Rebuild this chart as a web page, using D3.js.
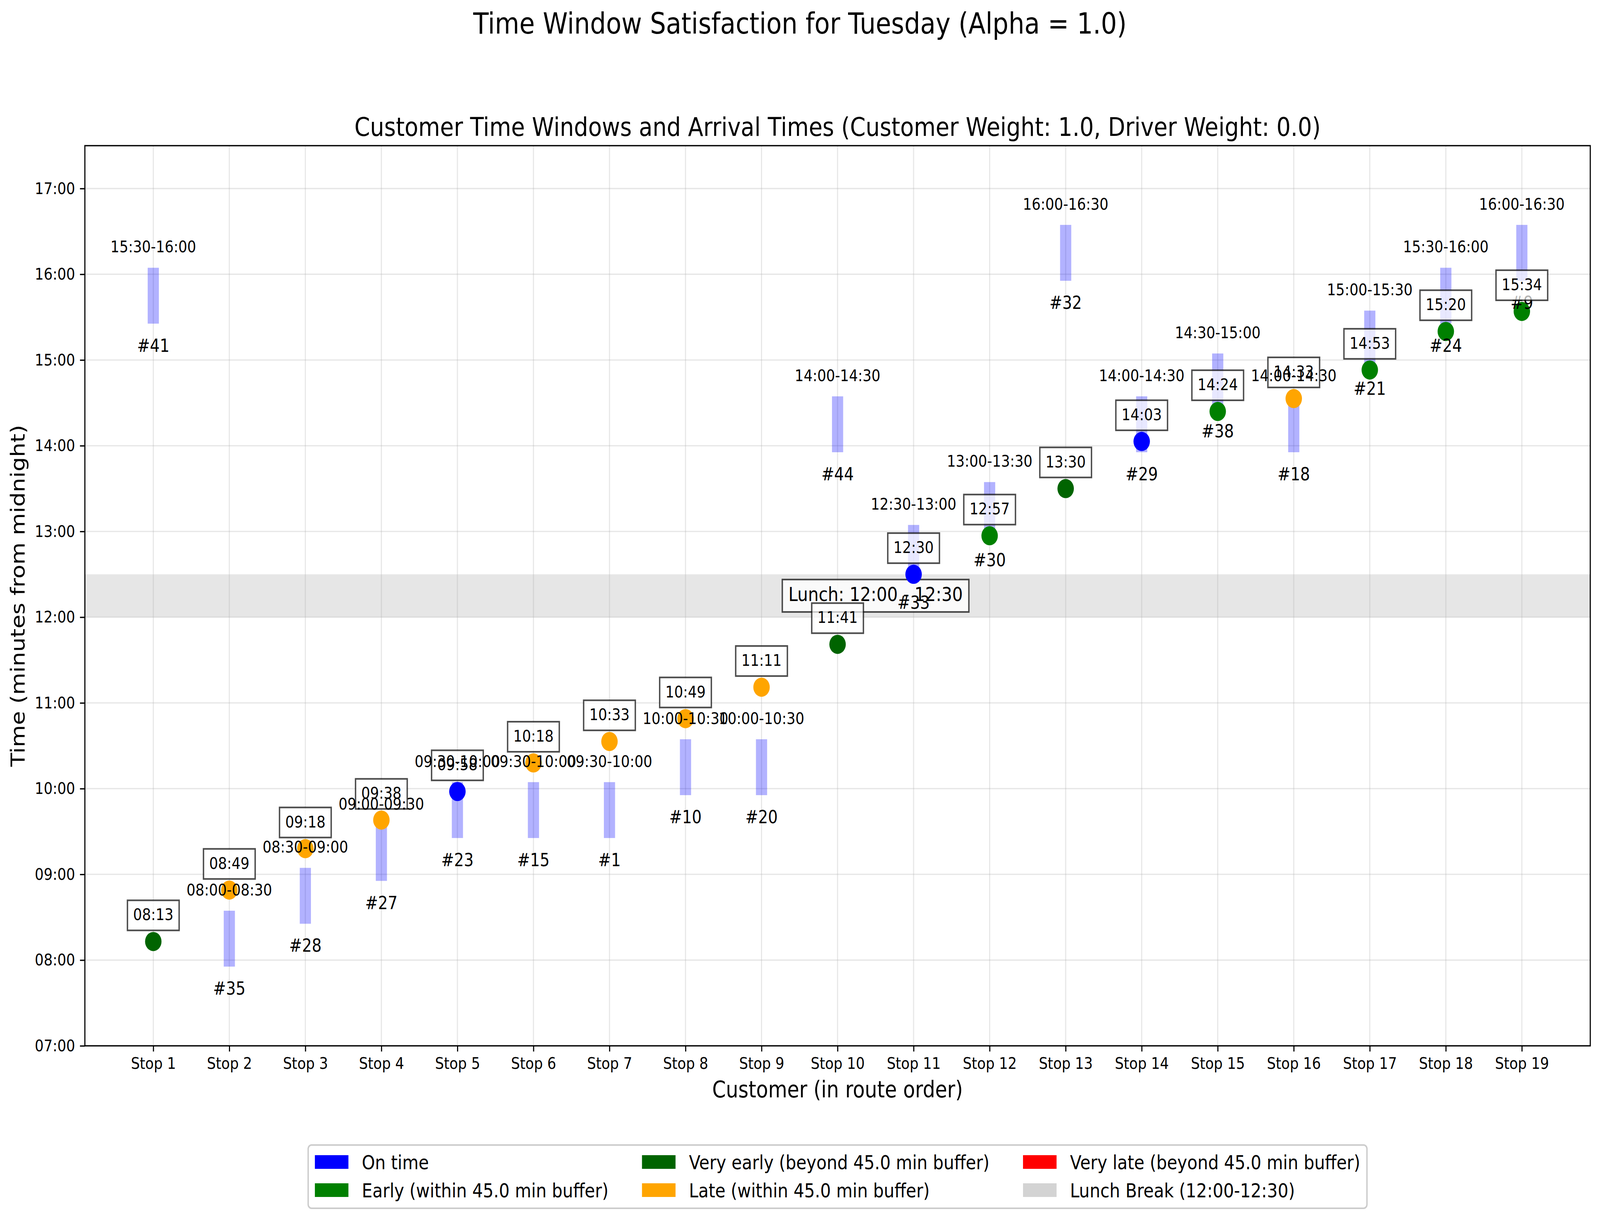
<!DOCTYPE html>
<html>
<head>
<meta charset="utf-8">
<script src="https://cdn.jsdelivr.net/npm/d3@7"></script>
<style>
html, body { margin: 0; padding: 0; width: 100%; height: 100%; overflow: hidden; background: #fff; }
svg { display: block; width: 100vw; height: 100vh; font-family: "DejaVu Sans", sans-serif; }
</style>
</head>
<body>
<svg viewBox="0 0 4770 3124" preserveAspectRatio="none"></svg>
<script>
// route order, one entry per stop
const stopLabels = ["Stop 1","Stop 2","Stop 3","Stop 4","Stop 5","Stop 6","Stop 7","Stop 8","Stop 9","Stop 10",
    "Stop 11","Stop 12","Stop 13","Stop 14","Stop 15","Stop 16","Stop 17","Stop 18","Stop 19"];
const customerIds = ["#41","#35","#28","#27","#23","#15","#1","#10","#20","#44","#33","#30","#32","#29","#38","#18","#21","#24","#9"];
const windowStarts = ["15:30","08:00","08:30","09:00","09:30","09:30","09:30","10:00","10:00","14:00",
    "12:30","13:00","16:00","14:00","14:30","14:00","15:00","15:30","16:00"];
const windowEnds = ["16:00","08:30","09:00","09:30","10:00","10:00","10:00","10:30","10:30","14:30",
    "13:00","13:30","16:30","14:30","15:00","14:30","15:30","16:00","16:30"];
const arrivalTimes = ["08:13","08:49","09:18","09:38","09:58","10:18","10:33","10:49","11:11","11:41",
    "12:30","12:57","13:30","14:03","14:24","14:33","14:53","15:20","15:34"];
const arrivalStatus = ["very_early","late","late","late","on_time","late","late","late","late","very_early",
    "on_time","early","very_early","on_time","early","late","early","early","early"];

const yTickLabels = ["07:00","08:00","09:00","10:00","11:00","12:00","13:00","14:00","15:00","16:00","17:00"];
const yRange = ["07:00","17:30"];
const lunchStart = "12:00";
const lunchEnd = "12:30";

const legendKeys = ["on_time","early","very_early","late","very_late","lunch"];
const legendLabels = ["On time","Early (within 45.0 min buffer)","Very early (beyond 45.0 min buffer)",
    "Late (within 45.0 min buffer)","Very late (beyond 45.0 min buffer)","Lunch Break (12:00-12:30)"];

const colors = {
    on_time: "blue",
    early: "green",
    very_early: "darkgreen",
    late: "orange",
    very_late: "red",
    lunch: "lightgray"
};

function toMin(s) {
    let p = s.split(":");
    return +p[0] * 60 + +p[1];
}

const pt = 300 / 72;
const svg = d3.select("svg");

const plotL = 253, plotR = 4741, plotT = 373, plotB = 2678;

const x = d3.scaleLinear()
    .domain([-0.9, stopLabels.length - 1 + 0.9])
    .range([plotL, plotR]);

const y = d3.scaleLinear()
    .domain([toMin(yRange[0]), toMin(yRange[1])])
    .range([plotB, plotT]);

const idx = d3.range(stopLabels.length);
const yTicks = yTickLabels.map(toMin);

// white figure background
svg.append("rect").attr("width", 4770).attr("height", 3124).attr("fill", "white");

// titles
svg.append("text")
    .attr("x", 2385).attr("y", 86)
    .attr("text-anchor", "middle")
    .attr("font-size", 18 * pt)
    .text("Time Window Satisfaction for Tuesday (Alpha = 1.0)");

svg.append("text")
    .attr("x", (plotL + plotR) / 2).attr("y", 348)
    .attr("text-anchor", "middle")
    .attr("font-size", 16 * pt)
    .text("Customer Time Windows and Arrival Times (Customer Weight: 1.0, Driver Weight: 0.0)");

// lunch band
svg.append("rect")
    .attr("x", plotL).attr("width", plotR - plotL)
    .attr("y", y(toMin(lunchEnd)))
    .attr("height", y(toMin(lunchStart)) - y(toMin(lunchEnd)))
    .attr("fill", "gray").attr("fill-opacity", 0.2);

// grid
let grid = svg.append("g").attr("stroke", "#b0b0b0").attr("stroke-opacity", 0.3).attr("stroke-width", 0.8 * pt);

grid.selectAll(".gx").data(idx).enter().append("line")
    .attr("x1", d => x(d)).attr("x2", d => x(d))
    .attr("y1", plotT).attr("y2", plotB);

grid.selectAll(".gy").data(yTicks).enter().append("line")
    .attr("x1", plotL).attr("x2", plotR)
    .attr("y1", d => y(d)).attr("y2", d => y(d));

// time window bars (thick line with projecting caps)
const barW = 8 * pt;
svg.append("g").selectAll("rect")
    .data(idx).enter().append("rect")
    .attr("x", i => x(i) - barW / 2)
    .attr("y", i => y(toMin(windowEnds[i])) - barW / 2)
    .attr("width", barW)
    .attr("height", i => y(toMin(windowStarts[i])) - y(toMin(windowEnds[i])) + barW)
    .attr("fill", "blue").attr("fill-opacity", 0.3);

// lunch label
const lunchFs = 12 * pt;
let lunchG = svg.append("g");
let lunchCy = y((toMin(lunchStart) + toMin(lunchEnd)) / 2);
let lunchText = lunchG.append("text")
    .attr("x", x(stopLabels.length / 2))
    .attr("y", lunchCy + 0.27 * lunchFs)
    .attr("text-anchor", "middle")
    .attr("font-size", lunchFs)
    .text("Lunch: " + lunchStart + " - " + lunchEnd);
let lw = lunchText.node().getComputedTextLength();
lunchG.insert("rect", "text")
    .attr("x", x(stopLabels.length / 2) - lw / 2 - 18)
    .attr("y", lunchCy - 41.5)
    .attr("width", lw + 36).attr("height", 83)
    .attr("fill", "white").attr("fill-opacity", 0.8)
    .attr("stroke", "black").attr("stroke-opacity", 0.7)
    .attr("stroke-width", pt);

// arrival dots
svg.append("g").selectAll("circle")
    .data(idx).enter().append("circle")
    .attr("cx", i => x(i))
    .attr("cy", i => y(toMin(arrivalTimes[i])))
    .attr("r", 24.5)
    .attr("fill", i => colors[arrivalStatus[i]]);

// customer ids below windows
const idFs = 11 * pt;
svg.append("g").selectAll("text")
    .data(idx).enter().append("text")
    .attr("x", i => x(i))
    .attr("y", i => y(toMin(windowStarts[i])) + 72 + 0.365 * idFs)
    .attr("text-anchor", "middle")
    .attr("font-size", idFs)
    .text(i => customerIds[i]);

// arrival time boxes
const boxFs = 10 * pt;
let boxes = svg.append("g").selectAll("g")
    .data(idx).enter().append("g");

boxes.append("text")
    .attr("x", i => x(i))
    .attr("y", i => y(toMin(arrivalTimes[i])) - 67 + 0.3 * boxFs)
    .attr("text-anchor", "middle")
    .attr("font-size", boxFs)
    .text(i => arrivalTimes[i]);

boxes.each(function(i) {
    let g = d3.select(this);
    let w = g.select("text").node().getComputedTextLength();
    g.insert("rect", "text")
        .attr("x", x(i) - w / 2 - 17)
        .attr("y", y(toMin(arrivalTimes[i])) - 67 - 38.5)
        .attr("width", w + 34).attr("height", 77)
        .attr("fill", "white").attr("fill-opacity", 0.7)
        .attr("stroke", "black").attr("stroke-opacity", 0.7)
        .attr("stroke-width", pt);
});

// window labels above windows
svg.append("g").selectAll("text")
    .data(idx).enter().append("text")
    .attr("x", i => x(i))
    .attr("y", i => y(toMin(windowEnds[i])) - 71 + 0.365 * boxFs)
    .attr("text-anchor", "middle")
    .attr("font-size", boxFs)
    .text(i => windowStarts[i] + "-" + windowEnds[i]);

// axes
let xAxis = svg.append("g")
    .attr("transform", "translate(0," + plotB + ")")
    .call(d3.axisBottom(x).tickValues(idx).tickFormat(i => stopLabels[i])
        .tickSize(3.5 * pt).tickPadding(3.5 * pt));

let yAxis = svg.append("g")
    .attr("transform", "translate(" + plotL + ",0)")
    .call(d3.axisLeft(y).tickValues(yTicks).tickFormat((d, i) => yTickLabels[i])
        .tickSize(3.5 * pt).tickPadding(3.5 * pt));

[xAxis, yAxis].forEach(function(a) {
    a.select(".domain").remove();
    a.selectAll("line").attr("stroke", "black").attr("stroke-width", 0.8 * pt);
    a.selectAll("text").attr("font-size", 10 * pt).attr("font-family", "DejaVu Sans").attr("fill", "black");
});

svg.append("rect")
    .attr("x", plotL).attr("y", plotT)
    .attr("width", plotR - plotL).attr("height", plotB - plotT)
    .attr("fill", "none").attr("stroke", "black").attr("stroke-width", 0.8 * pt);

svg.append("text")
    .attr("x", (plotL + plotR) / 2).attr("y", 2810)
    .attr("text-anchor", "middle")
    .attr("font-size", 14 * pt)
    .text("Customer (in route order)");

svg.append("text")
    .attr("transform", "translate(73," + (plotT + plotB) / 2 + ") rotate(-90)")
    .attr("text-anchor", "middle")
    .attr("font-size", 14 * pt)
    .text("Time (minutes from midnight)");

// legend, 3 columns filled column by column
const lfs = 12 * pt;
const ncol = 3, nrow = 2;
let legend = svg.append("g");
let frame = legend.append("rect");
let items = legend.selectAll("g.item")
    .data(legendKeys).enter().append("g").attr("class", "item");

items.append("rect")
    .attr("width", 2 * lfs).attr("height", 0.7 * lfs)
    .attr("y", -0.35 * lfs)
    .attr("fill", k => colors[k]);

items.append("text")
    .attr("x", 2.8 * lfs)
    .attr("y", 0.36 * lfs)
    .attr("font-size", lfs)
    .text((k, i) => legendLabels[i]);

let colW = [];
items.each(function(k, i) {
    let c = Math.floor(i / nrow);
    let w = 2.8 * lfs + d3.select(this).select("text").node().getComputedTextLength();
    colW[c] = Math.max(colW[c] || 0, w);
});

const pad = 0.4 * lfs, rowH = 72;
let legW = 2 * pad + d3.sum(colW) + (ncol - 1) * 2 * lfs;
let legH = 162;
let legX = (plotL + plotR) / 2 - legW / 2, legY = 2932;

items.attr("transform", function(k, i) {
    let c = Math.floor(i / nrow), r = i % nrow;
    let cx = legX + pad + d3.sum(colW.slice(0, c)) + c * 2 * lfs;
    let cy = legY + pad + 23.5 + r * rowH;
    return "translate(" + cx + "," + cy + ")";
});

frame.attr("x", legX).attr("y", legY)
    .attr("width", legW).attr("height", legH)
    .attr("rx", 0.2 * lfs)
    .attr("fill", "white").attr("fill-opacity", 0.8)
    .attr("stroke", "#cccccc").attr("stroke-width", pt);
</script>
</body>
</html>
